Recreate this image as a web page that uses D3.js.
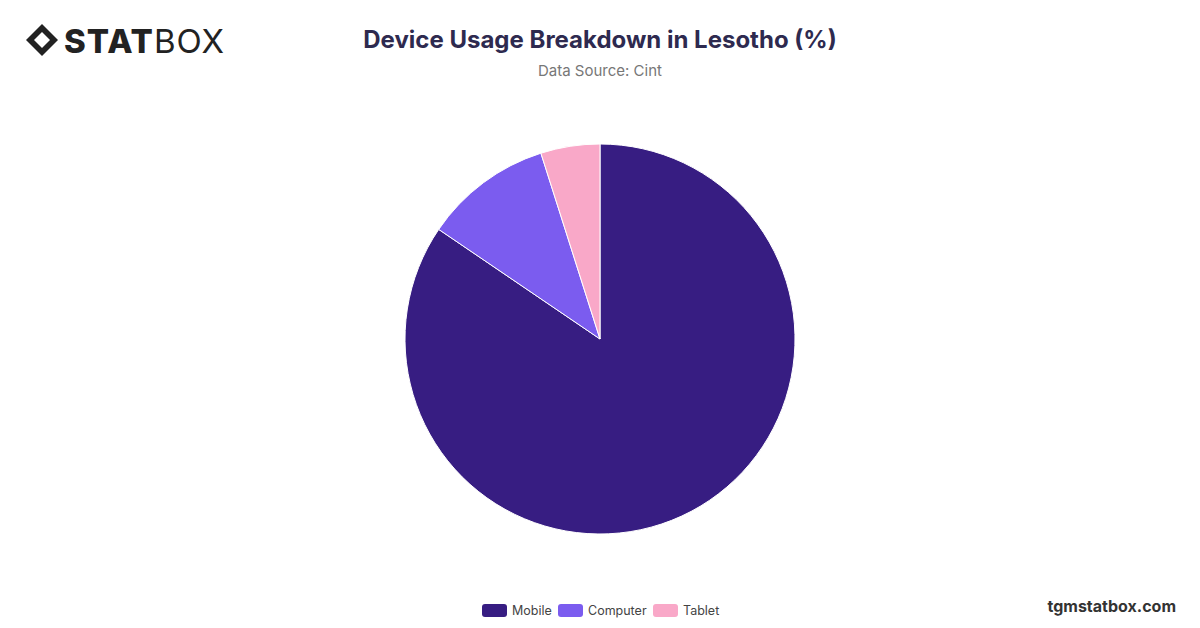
<!DOCTYPE html>
<html>
<head>
<meta charset="utf-8">
<script src="https://cdn.jsdelivr.net/npm/d3@7"></script>
<style>
  body { margin: 0; background: #fff; }
  svg { display: block; font-family: Inter, "Noto Sans", sans-serif; }
</style>
</head>
<body>
<svg id="chart" width="1200" height="628"></svg>
<script>
"use strict";

//data

const categories = ["Mobile", "Computer", "Tablet"];
const values = [84.5, 10.6, 4.9];
const colors = ["#371d82", "#7b5cef", "#f9a8c8"];

//setup

const svg = d3.select("#chart");
const r = 195;
const cx = 600;
const cy = 339;

//title

svg.append("text")
  .attr("x", 600).attr("y", 48)
  .attr("text-anchor", "middle")
  .attr("font-size", 24).attr("font-weight", 700)
  .attr("fill", "#2e2a4f")
  .text("Device Usage Breakdown in Lesotho (%)");

svg.append("text")
  .attr("x", 600).attr("y", 76)
  .attr("text-anchor", "middle")
  .attr("font-size", 15)
  .attr("fill", "#777")
  .text("Data Source: Cint");

//logo

const logo = svg.append("g").attr("transform", "translate(26, 24)");

logo.append("path")
  .attr("d", "M16 0 L32 16 L16 32 L0 16 Z M16 8 L24 16 L16 24 L8 16 Z")
  .attr("fill", "#222").attr("fill-rule", "evenodd");

logo.append("text")
  .attr("x", 38).attr("y", 29)
  .attr("font-size", 33).attr("font-weight", 800)
  .attr("letter-spacing", 1)
  .attr("fill", "#222")
  .text("STAT")
  .append("tspan").attr("font-weight", 400).text("BOX");

//pie

const pieFn = d3.pie().sort(null);
const arcFn = d3.arc().innerRadius(0).outerRadius(r);

svg.append("g")
  .attr("transform", `translate(${cx}, ${cy})`)
  .selectAll("path")
  .data(pieFn(values))
  .enter()
  .append("path")
  .attr("d", arcFn)
  .attr("fill", (d) => colors[d.index])
  .attr("stroke", "#fff")
  .attr("stroke-width", 1);

//legend

const widths = [76, 95, 66];
const legend = svg.append("g").attr("transform", "translate(482, 604)");
let x = 0;

categories.forEach((c, i) => {
  const g = legend.append("g").attr("transform", `translate(${x}, 0)`);
  g.append("rect")
    .attr("width", 25).attr("height", 13).attr("rx", 3)
    .attr("fill", colors[i]);
  g.append("text")
    .attr("x", 30).attr("y", 11)
    .attr("font-size", 12.5).attr("fill", "#444")
    .text(c);
  x += widths[i];
});

//footer

svg.append("text")
  .attr("x", 1176).attr("y", 612)
  .attr("text-anchor", "end")
  .attr("font-size", 16).attr("font-weight", 700)
  .attr("fill", "#333")
  .text("tgmstatbox.com");
</script>
</body>
</html>
